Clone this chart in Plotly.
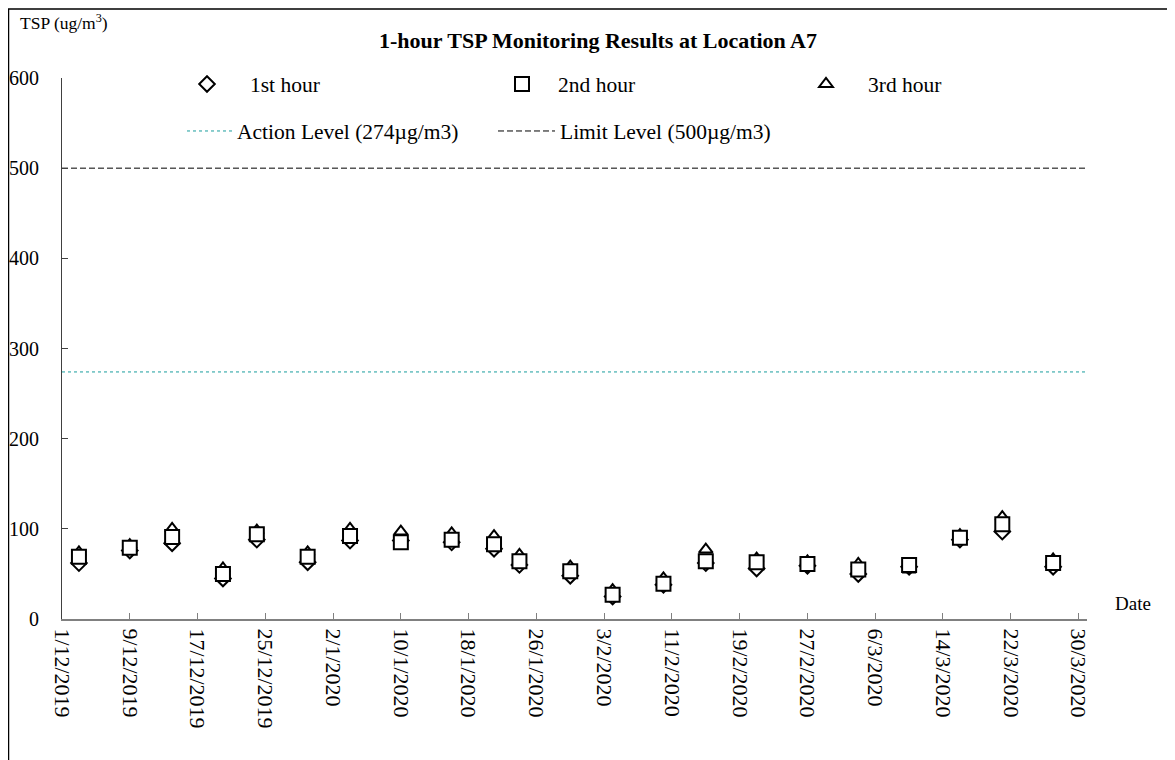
import plotly.graph_objects as go

dates = ["2019-12-03", "2019-12-09", "2019-12-14", "2019-12-20", "2019-12-24", "2019-12-30",
         "2020-01-04", "2020-01-10", "2020-01-16", "2020-01-21", "2020-01-24", "2020-01-30",
         "2020-02-04", "2020-02-10", "2020-02-15", "2020-02-21", "2020-02-27", "2020-03-04",
         "2020-03-10", "2020-03-16", "2020-03-21", "2020-03-27"]
hour1 = [62, 76, 84, 45, 88, 63, 87, 87, 85, 78, 60, 48, 25, 38, 62, 56, 59, 50, 58, 88, 97, 58]
hour2 = [69, 79, 91, 50, 94, 69, 92, 85, 88, 83, 64, 53, 27, 39, 64, 63, 61, 55, 60, 90, 105, 62]
hour3 = [74, 82, 100, 56, 98, 74, 100, 97, 95, 92, 71, 58, 32, 45, 77, 67, 64, 61, 55, 93, 113, 66]

action_level = 274
limit_level = 500
x_range = ["2019-12-01", "2020-03-31"]

FONT = "Liberation Serif, Times New Roman, serif"

fig = go.Figure()

fig.add_trace(go.Scatter(
    x=x_range, y=[action_level] * 2, mode="lines", name="Action Level (274µg/m3)",
    line=dict(color="#1a9d9d", width=1, dash="dot"), legend="legend4"))
fig.add_trace(go.Scatter(
    x=x_range, y=[limit_level] * 2, mode="lines", name="Limit Level (500µg/m3)",
    line=dict(color="black", width=1, dash="6px,3px"), legend="legend5"))

fig.add_trace(go.Scatter(
    x=dates, y=hour1, mode="markers", name="1st hour", legend="legend",
    marker=dict(symbol="diamond", size=12, color="white", line=dict(color="black", width=2))))
fig.add_trace(go.Scatter(
    x=dates, y=hour3, mode="markers", name="3rd hour", legend="legend3",
    marker=dict(symbol="triangle-up", size=12, color="white", line=dict(color="black", width=2))))
fig.add_trace(go.Scatter(
    x=dates, y=hour2, mode="markers", name="2nd hour", legend="legend2",
    marker=dict(symbol="square", size=14, color="white", line=dict(color="black", width=2))))

OFF = 8  # page offset of the figure inside the browser window
W, H = 1175 - OFF, 760 - OFF
L = 62 - OFF
T = 78 - OFF
R = 1175 - 1087
B = 760 - 619
pw = W - L - R
ph = H - T - B


def px_x(x):
    return (x - OFF - L) / pw


def px_y(y):
    return 1 - (y - OFF - T) / ph


def leg(x_abs, y_abs, iw):
    return dict(orientation="h", x=px_x(x_abs), xanchor="left", y=px_y(y_abs), yanchor="middle",
                bgcolor="rgba(0,0,0,0)", itemwidth=iw,
                font=dict(family=FONT, size=21.5, color="black"))


fig.update_layout(
    width=W, height=H,
    margin=dict(l=L, r=R, t=T, b=B, autoexpand=False),
    paper_bgcolor="white", plot_bgcolor="white",
    font=dict(family=FONT, size=20, color="black"),
    title=dict(text="<b>1-hour TSP Monitoring Results at Location A7</b>",
               x=(598 - OFF) / W, xanchor="center", y=1 - (40 - OFF) / H, yanchor="middle",
               font=dict(family=FONT, size=22, color="black")),
    showlegend=True,
    legend=leg(164, 84, 76),
    legend2=leg(486, 84, 62),
    legend3=leg(784, 84, 74),
    legend4=leg(182, 131, 45),
    legend5=leg(493, 131, 57),
    xaxis=dict(type="date", range=x_range, tick0="2019-12-01", dtick=8 * 86400000,
               tickformat="%-d/%-m/%Y", tickangle=90, ticks="inside", ticklen=6,
               tickcolor="#808080", showline=True, linecolor="#808080", linewidth=2,
               showgrid=False, zeroline=False, ticklabelstandoff=3, automargin=False,
               tickfont=dict(family=FONT, size=22)),
    yaxis=dict(range=[0, 600], dtick=100, ticks="inside", ticklen=6,
               tickcolor="#404040", showline=True, linecolor="#404040", linewidth=1,
               showgrid=False, zeroline=False, ticklabelstandoff=18, automargin=False,
               tickfont=dict(family=FONT, size=20)),
    annotations=[
        dict(text="TSP (ug/m<sup>3</sup>)", xref="paper", yref="paper",
             x=px_x(18), y=px_y(22), xanchor="left", yanchor="middle", showarrow=False,
             font=dict(family=FONT, size=17.5)),
        dict(text="Date", xref="paper", yref="paper",
             x=px_x(1113), y=px_y(603), xanchor="left", yanchor="middle", showarrow=False,
             font=dict(family=FONT, size=19)),
    ],
    shapes=[
        dict(type="rect", xref="paper", yref="paper",
             x0=px_x(8.5), x1=px_x(1200), y0=px_y(800), y1=px_y(9),
             line=dict(color="black", width=1.5), fillcolor="rgba(0,0,0,0)", layer="below"),
    ],
)

fig.write_html("out.html")
